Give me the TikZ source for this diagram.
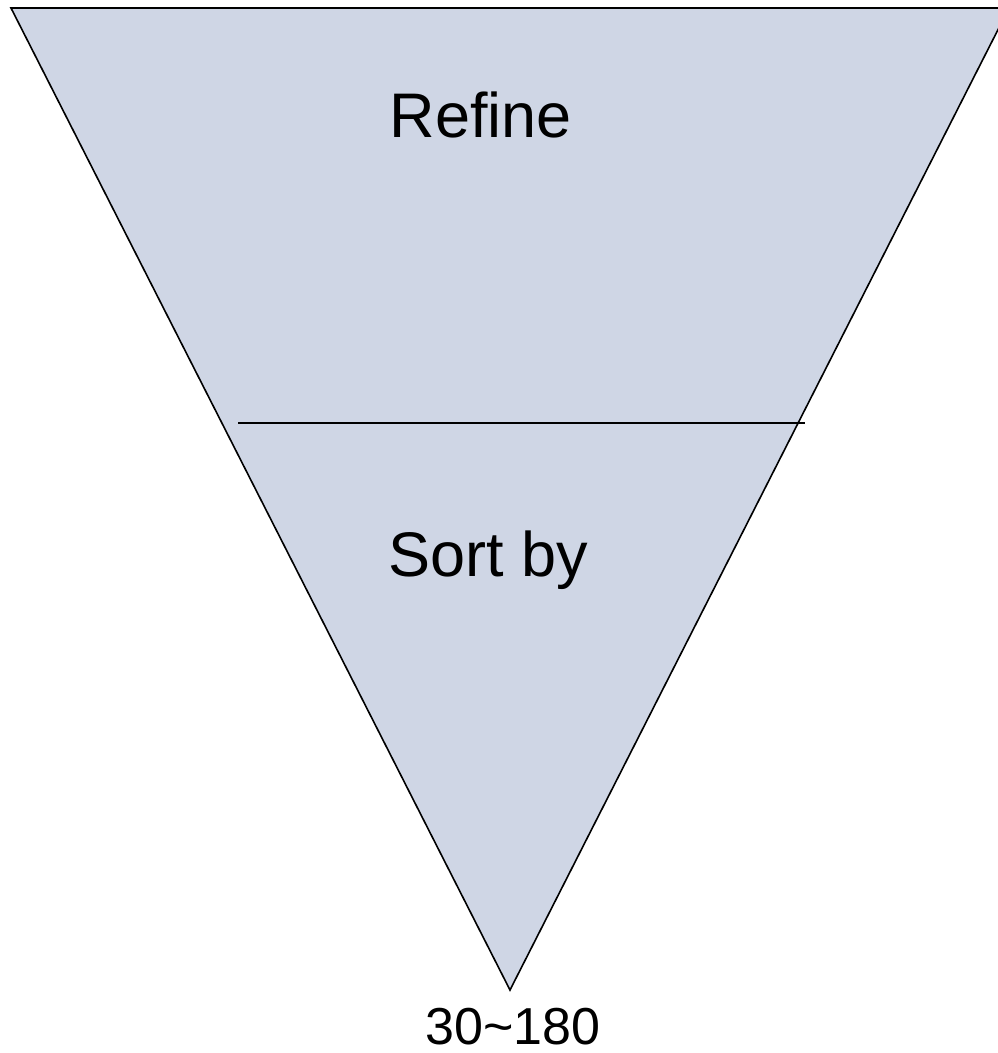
\documentclass[tikz,border=0pt]{standalone}
\usepackage{fontspec}
\setmainfont{Liberation Sans}
\definecolor{funnelfill}{RGB}{207,214,229}
\begin{document}
\begin{tikzpicture}[x=1pt,y=-1pt,
  lbl/.style={inner sep=0pt,anchor=base,font=\fontsize{63}{70}\selectfont},
  small/.style={inner sep=0pt,anchor=base,font=\fontsize{52}{60}\selectfont}]
\useasboundingbox (0,0) rectangle (998,1053);
\begin{scope}
\clip (0,0) rectangle (998,1053);
\coordinate (tl) at (11,8);
\coordinate (tr) at (1009,8);
\coordinate (ap) at (510,990);
\draw[line width=1.6pt,fill=funnelfill,line join=miter] (tl) -- (tr) -- (ap) -- cycle;
\coordinate (hl) at (238,423);
\coordinate (hr) at (805,423);
\draw[line width=1.6pt] (hl) -- (hr);
\end{scope}
\node[lbl] (refine) at (481,137) {Refine};
\node[lbl] (sort) at (488,576) {Sort by};
\node[small] (range) at (513,1044) {30\textasciitilde180};
\end{tikzpicture}
\end{document}
